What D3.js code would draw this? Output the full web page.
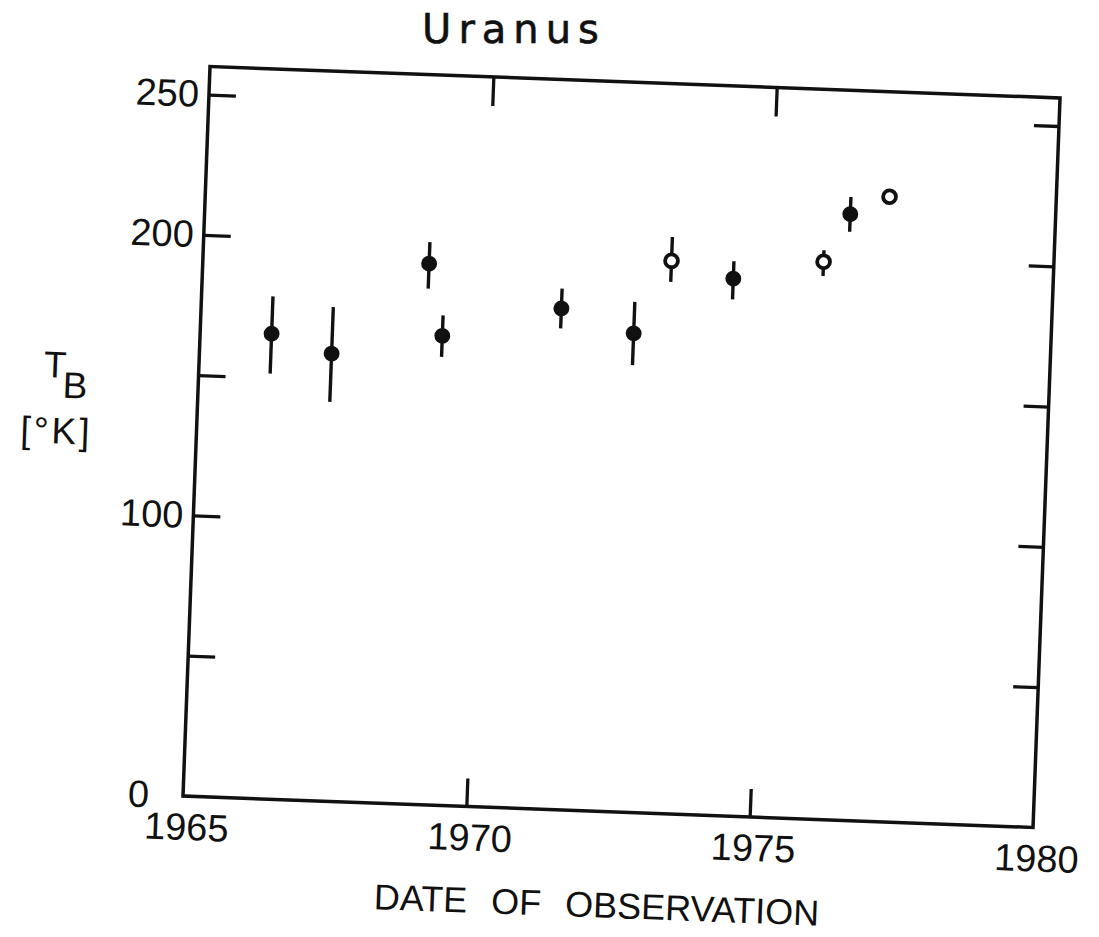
<!DOCTYPE html>
<html lang="en">
<head>
  <meta charset="utf-8">
  <script src="https://d3js.org/d3.v7.min.js"></script>
  <style>
    body { margin: 0; background: #fff; }
    text { font-family: "Liberation Sans", Arial, sans-serif; fill: #111; }
  </style>
</head>
<body>
  <script>
    // Data (brightness temperature of Uranus vs date)
    const years  = [1966.26, 1967.33, 1968.99, 1969.27, 1971.35, 1972.64, 1973.26, 1974.36, 1975.94, 1976.38, 1977.06];
    const tb     = [165.7, 159.4, 192.7, 167.2, 178.5, 170.6, 196.9, 191.4, 198.6, 215.9, 222.6];
    const tbHigh = [179.0, 176.0, 200.4, 174.5, 185.6, 181.8, 205.4, 197.6, 202.7, 222.0, 225.0];
    const tbLow  = [151.5, 142.2, 183.8, 159.7, 171.4, 159.3, 189.4, 184.0, 193.5, 209.6, 220.0];
    const kind   = ["filled", "filled", "filled", "filled", "filled", "filled", "open", "filled", "open", "filled", "open"];

    const xTicks = [1965, 1970, 1975, 1980];
    const yTicks = [0, 50, 100, 150, 200, 250];
    const yLabels = [0, 100, 200, 250];

    const data = years.map((d, i) => ({ x: d, y: tb[i], hi: tbHigh[i], lo: tbLow[i], k: kind[i] }));

    // plot size (the scanned sheet is a little rotated)
    const W = 850.6, H = 730;
    const angle = 2.12;

    const svg = d3.select("body").append("svg")
      .attr("width", 1099).attr("height", 937);

    svg.append("rect").attr("width", 1099).attr("height", 937).attr("fill", "#fff");

    // handwritten title
    svg.append("text")
      .attr("x", 514).attr("y", 43)
      .attr("text-anchor", "middle")
      .style("font-family", "'DejaVu Sans', sans-serif")
      .style("font-size", "40px")
      .style("letter-spacing", "7px")
      .attr("stroke", "#111").attr("stroke-width", 0.6)
      .text("Uranus");

    const g = svg.append("g")
      .attr("transform", `translate(183,796) rotate(${angle}) translate(0,${-H})`);

    const x = d3.scaleLinear().domain([1965, 1980]).range([0, W]);
    const y = d3.scaleLinear().domain([0, 260]).range([H, 0]);

    // frame
    g.append("rect")
      .attr("width", W).attr("height", H)
      .attr("fill", "none").attr("stroke", "#111").attr("stroke-width", 3.5);

    function styleAxis(sel) {
      sel.select(".domain").remove();
      sel.selectAll(".tick line").attr("stroke", "#111").attr("stroke-width", 3.3);
      sel.selectAll(".tick text")
        .style("font-family", "'Liberation Sans', Arial, sans-serif")
        .style("font-size", "38px").attr("fill", "#111");
    }

    // left axis
    const left = g.append("g")
      .call(d3.axisLeft(y).tickValues(yTicks).tickSize(-27).tickPadding(10)
        .tickFormat(d => yLabels.includes(d) ? d : ""))
      .call(styleAxis);
    left.selectAll(".tick").filter(d => d === 0).select("text").attr("x", -34);
    left.selectAll(".tick").filter(d => d === 0).select("line").remove();

    // right axis
    g.append("g")
      .attr("transform", `translate(${W},0)`)
      .call(d3.axisRight(y).tickValues(yTicks.filter(d => d > 0)).tickSize(-25).tickFormat(""))
      .call(styleAxis);

    // bottom axis
    const bottom = g.append("g")
      .attr("transform", `translate(0,${H})`)
      .call(d3.axisBottom(x).tickValues(xTicks).tickSize(-28).tickPadding(17).tickFormat(d3.format("d")))
      .call(styleAxis);
    bottom.selectAll(".tick text").attr("dx", 4);
    bottom.selectAll(".tick").filter(d => d === 1965 || d === 1980).select("line").remove();

    // top axis
    g.append("g")
      .call(d3.axisTop(x).tickValues([1970, 1975]).tickSize(-29).tickFormat(""))
      .call(styleAxis);

    // axis titles
    g.append("text")
      .attr("x", W / 2 - 8).attr("y", H + 106)
      .attr("text-anchor", "middle")
      .style("font-size", "36px")
      .style("word-spacing", "14px")
      .text("DATE OF OBSERVATION");

    const yt = g.append("text")
      .attr("x", -155).attr("y", y(148) + 2)
      .style("font-size", "37px");
    yt.append("tspan").text("T");
    yt.append("tspan").attr("dx", -3).attr("dy", 20).text("B");

    g.append("text")
      .attr("x", -176).attr("y", y(127) + 9)
      .style("font-size", "37px")
      .style("letter-spacing", "3px")
      .text("[°K]");

    // error bars
    g.selectAll(".err").data(data).join("line")
      .attr("class", "err")
      .attr("x1", d => x(d.x)).attr("x2", d => x(d.x))
      .attr("y1", d => y(d.hi)).attr("y2", d => y(d.lo))
      .attr("stroke", "#111").attr("stroke-width", 3.4);

    // markers
    g.selectAll(".pt").data(data).join("circle")
      .attr("class", "pt")
      .attr("cx", d => x(d.x)).attr("cy", d => y(d.y))
      .attr("r", d => d.k === "open" ? 6.4 : 6.2)
      .attr("fill", d => d.k === "open" ? "#fff" : "#111")
      .attr("stroke", "#111").attr("stroke-width", d => d.k === "open" ? 3.8 : 3.5);
  </script>
</body>
</html>
